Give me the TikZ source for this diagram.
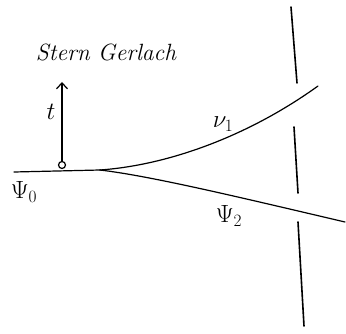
\documentclass[tikz,border=0pt]{standalone}
\usepackage{amsmath,amssymb}
\usepackage{xcolor}
\usepackage{tikz}
\usetikzlibrary{arrows.meta,calc,positioning}
\tikzset{
  strahl/.style={draw=black,line width=1.2pt,line cap=round},
  blende/.style={draw=black,line width=1.6pt,line cap=round},
  quelle/.style={circle,draw=black,line width=1.2pt,inner sep=0pt,minimum width=5pt,minimum height=7pt},
  pfeil/.style={-{Straight Barb[length=6pt,width=11pt]},line width=1.2pt},
  beschr/.style={font=\fontsize{24}{28}\selectfont}
}

\begin{document}
\begin{tikzpicture}[x=1pt,y=-1pt]
\useasboundingbox (0,0) rectangle (346,334);
% Strahl und Aufspaltung
\node[quelle] (q) at (62,165) {};
\coordinate (links) at (14,172);
\coordinate (gabel) at (100,170);
\coordinate (o1) at (318,86);
\coordinate (o2) at (345,222);
\draw[strahl] (links) -- (gabel);
\draw[strahl] (gabel) .. controls (170,165) and (250,135) .. (o1);
\draw[strahl] (gabel) .. controls (150,176) and (230,195) .. (o2);
% Feld
\coordinate (spitze) at (62,82);
\draw[pfeil] (q.north) -- (spitze);
\node[beschr] (t) at (51,112) {$t$};
\node[font=\itshape\fontsize{23.5}{28}\selectfont] (sg) at (106,52) {Stern Gerlach};
% Blende
\foreach \xa/\ya/\xb/\yb in {291/7/297/83,294/127/298/193,298/222/304/326}{\draw[blende] (\xa,\ya) -- (\xb,\yb);}
% Zustaende
\node[beschr] (p0) at (24,192) {$\Psi_0$};
\node[beschr] (p1) at (223,124) {$\nu_1$};
\node[beschr] (p2) at (229,216) {$\Psi_2$};
\end{tikzpicture}
\end{document}
